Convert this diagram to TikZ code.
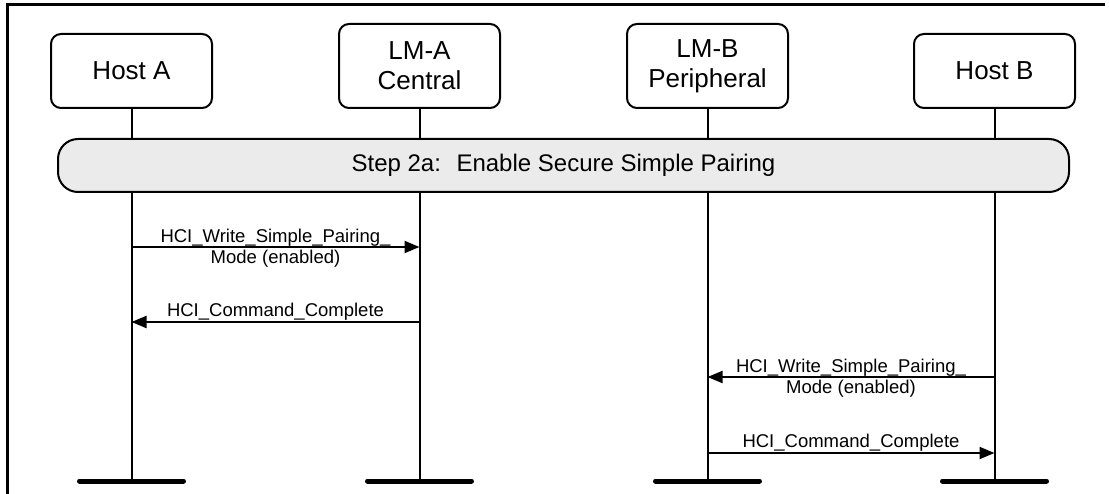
\documentclass[tikz,border=0pt]{standalone}
\usepackage{fontspec}
\setmainfont{Liberation Sans}
\usetikzlibrary{arrows.meta}
\definecolor{stepgray}{HTML}{EBEBEB}
\begin{document}
\begin{tikzpicture}[x=1pt,y=-1pt,
  actor/.style={draw,line width=2pt,rounded corners=10pt,minimum width=161pt,align=center,
    font=\fontsize{26}{30}\selectfont,inner sep=0pt},
  life/.style={line width=2pt},
  msg/.style={line width=2pt,-{Triangle[length=15pt,width=12pt]}},
  lbl/.style={font=\fontsize{18.5}{21}\selectfont,align=center,inner sep=0pt},
  endbar/.style={line width=5pt,line cap=round},
  stepbar/.style={draw,line width=2pt,fill=stepgray,rounded corners=20pt,minimum width=1011pt,
    minimum height=53pt,font=\fontsize{24}{28}\selectfont,inner sep=0pt},
  frame/.style={line width=3pt}]
\useasboundingbox (0,0) rectangle (1109,494);
\draw[frame] (7,494) -- (7,5) -- (1105,5);
% actors
\node[actor,minimum height=74pt] (hA) at (131.5,71) {Host A};
\node[actor,minimum height=84pt] (lmA) at (419.5,66) {LM-A\\Central};
\node[actor,minimum height=84pt] (lmB) at (707.5,66) {LM-B\\Peripheral};
\node[actor,minimum height=74pt] (hB) at (994.5,71) {Host B};
\coordinate (endy) at (0,481);
\coordinate (eA) at (hA.south |- endy);
\coordinate (eLA) at (lmA.south |- endy);
\coordinate (eLB) at (lmB.south |- endy);
\coordinate (eB) at (hB.south |- endy);
% lifelines
\draw[life] (hA.south) -- (eA);
\draw[life] (lmA.south) -- (eLA);
\draw[life] (lmB.south) -- (eLB);
\draw[life] (hB.south) -- (eB);
\foreach \e in {eA,eLA,eLB,eB}{
  \draw[endbar] ([xshift=-52pt]\e) -- ([xshift=52pt]\e);
}
% step bar
\node[stepbar] (step) at (563.5,165.5) {Step 2a:~ Enable Secure Simple Pairing};
% messages
\coordinate (y1) at (0,247);
\coordinate (y2) at (0,322);
\coordinate (y3) at (0,377);
\coordinate (y4) at (0,453);
\draw[msg] (hA |- y1) -- node[lbl,yshift=-1pt] {HCI\_Write\_Simple\_Pairing\_\\Mode (enabled)} (lmA |- y1);
\draw[msg] (lmA |- y2) -- node[lbl,anchor=base,yshift=5.5pt] {HCI\_Command\_Complete} (hA |- y2);
\draw[msg] (hB |- y3) -- node[lbl,yshift=-1pt] {HCI\_Write\_Simple\_Pairing\_\\Mode (enabled)} (lmB |- y3);
\draw[msg] (lmB |- y4) -- node[lbl,anchor=base,yshift=5.5pt] {HCI\_Command\_Complete} (hB |- y4);
\end{tikzpicture}
\end{document}
